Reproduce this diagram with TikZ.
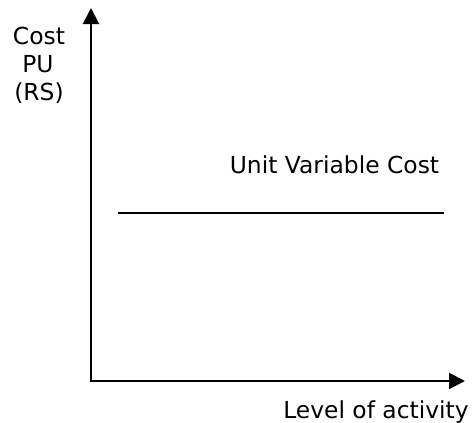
\documentclass[tikz,border=0pt]{standalone}
\usepackage{fontspec}
\setmainfont{DejaVu Sans}
\usetikzlibrary{arrows.meta}
\begin{document}
\begin{tikzpicture}[x=1pt,y=-1pt,
  axis/.style={line width=2pt,{Triangle[length=16pt,width=16pt]}-{Triangle[length=16pt,width=16pt]}},
  costline/.style={line width=2pt},
  lbl/.style={inner sep=0pt,anchor=base,font=\fontsize{23.4}{28}\selectfont}]
  \useasboundingbox (0,0) rectangle (475,423);
  % axes
  \coordinate (ytip) at (91,8);
  \coordinate (xtip) at (465,381);
  \draw[axis] (ytip) |- (xtip);
  % unit variable cost level
  \coordinate (uvcA) at (118,213);
  \coordinate (uvcB) at (444,213);
  \draw[costline] (uvcA) -- (uvcB);
  % labels
  \node[lbl] (ylab1) at (39,45) {Cost};
  \node[lbl] (ylab2) at (38,72.5) {PU};
  \node[lbl] (ylab3) at (39,100) {(RS)};
  \node[lbl] (uvc) at (334.5,173) {Unit Variable Cost};
  \node[lbl] (xlab) at (376,418) {Level of activity};
\end{tikzpicture}
\end{document}
